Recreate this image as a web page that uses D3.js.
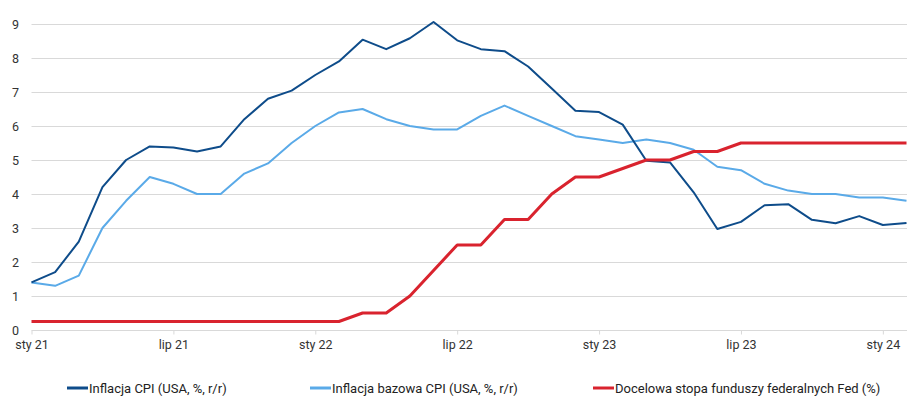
<!DOCTYPE html>
<html><head><meta charset="utf-8">
<script src="https://cdn.jsdelivr.net/npm/d3@7"></script>
<style>body{margin:0;background:#fff}svg{display:block}</style>
</head><body><svg id="c" width="917" height="401"></svg>
<script>
const cpi = [1.4,1.7,2.6,4.2,5.0,5.4,5.37,5.25,5.4,6.2,6.8,7.04,
  7.5,7.9,8.54,8.26,8.58,9.06,8.52,8.26,8.2,7.75,7.1,6.45,
  6.41,6.04,4.98,4.93,4.05,2.97,3.18,3.67,3.7,3.24,3.14,3.35,
  3.09,3.15];
const core = [1.4,1.3,1.6,3.0,3.8,4.5,4.3,4.0,4.0,4.6,4.9,5.5,
  6.0,6.4,6.5,6.2,6.0,5.9,5.9,6.3,6.6,6.3,6.0,5.7,
  5.6,5.5,5.6,5.5,5.3,4.8,4.7,4.3,4.1,4.0,4.0,3.9,
  3.9,3.8];
const fed = [0.25,0.25,0.25,0.25,0.25,0.25,0.25,0.25,0.25,0.25,0.25,0.25,
  0.25,0.25,0.5,0.5,1.0,1.75,2.5,2.5,3.25,3.25,4.0,4.5,
  4.5,4.75,5.0,5.0,5.25,5.25,5.5,5.5,5.5,5.5,5.5,5.5,
  5.5,5.5];
const yTicks = [0,1,2,3,4,5,6,7,8,9];
const xTickIdx = [0,6,12,18,24,30,36];
const xTickLabels = ["sty 21","lip 21","sty 22","lip 22","sty 23","lip 23","sty 24"];
const seriesNames = ["Inflacja CPI (USA, %, r/r)","Inflacja bazowa CPI (USA, %, r/r)","Docelowa stopa funduszy federalnych Fed (%)"];
const colors = ["#0e4c8a","#5aaae8","#d9232e"];

(function(){
const svg = d3.select("#c");
const pL = 31.5, pR = 907, pT = 24, pB = 330;
const x = d3.scaleLinear().domain([0, 37]).range([pL, pR - 0.5]);
const y = d3.scaleLinear().domain([0, 9]).range([pB, pT]);

svg.append("g").selectAll("line").data(yTicks.filter(d=>d>0)).join("line")
  .attr("x1", pL).attr("x2", pR)
  .attr("y1", d=>Math.round(y(d))+0.5).attr("y2", d=>Math.round(y(d))+0.5)
  .attr("stroke", "#d9d9d9").attr("stroke-width", 1);

svg.append("g").selectAll("text").data(yTicks).join("text")
  .attr("x", 19).attr("y", d=>y(d)+4.5).attr("text-anchor","end")
  .attr("font-family","Roboto, 'Liberation Sans', sans-serif").attr("font-size", 12.5)
  .attr("fill","#333").text(d=>d);

const xAxis = d3.axisBottom(x).tickValues(xTickIdx).tickFormat((d,i)=>xTickLabels[i]).tickSize(4).tickSizeOuter(0);
const gx = svg.append("g").attr("transform", `translate(0,${pB+0.5})`).call(xAxis);
gx.select(".domain").attr("stroke","#d9d9d9").attr("d", `M${pL},0H${pR}`);
gx.selectAll(".tick line").attr("stroke","#d9d9d9");
gx.selectAll(".tick text").attr("font-family","Roboto, 'Liberation Sans', sans-serif").attr("font-size",12.5).attr("fill","#333").attr("dy","0.95em");

const line = d3.line().x((d,i)=>x(i)).y(d=>y(d));
[[core,1,2],[cpi,0,2],[fed,2,3]].forEach(([data,ci,w])=>{
  svg.append("path").datum(data).attr("d", line).attr("fill","none")
    .attr("stroke", colors[ci]).attr("stroke-width", w).attr("stroke-linejoin","round");
});

const legX = [67, 310, 593];
const lg = svg.append("g");
seriesNames.forEach((n,i)=>{
  lg.append("line").attr("x1", legX[i]).attr("x2", legX[i]+21).attr("y1", 388).attr("y2", 388)
    .attr("stroke", colors[i]).attr("stroke-width", 3);
  lg.append("text").attr("x", legX[i]+22).attr("y", 392.5)
    .attr("font-family","Roboto, sans-serif")
    .attr("font-size", 13).attr("fill","#222").text(n);
});
})();
</script></body></html>
